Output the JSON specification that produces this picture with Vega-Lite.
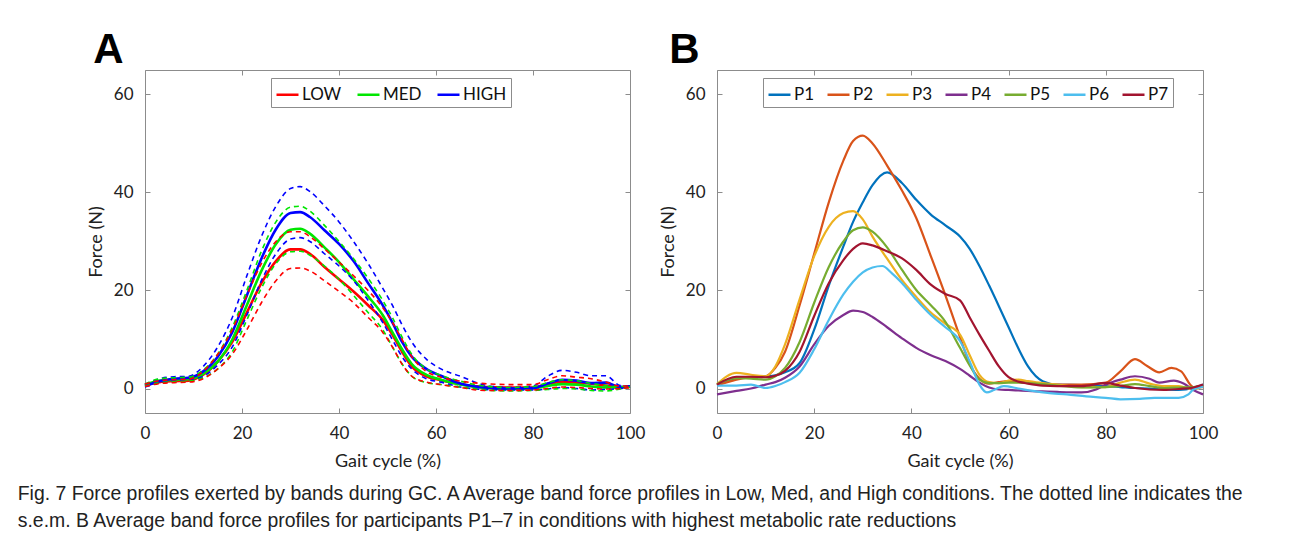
{
"$schema": "https://vega.github.io/schema/vega-lite/v6.json",
"background": "white",
"padding": {"left": 17, "top": 28, "right": 10, "bottom": 10},
"bounds": "flush",
"spacing": 87,
"resolve": {"scale": {"color": "independent"}, "legend": {"color": "independent"}},
"config": {
  "font": "Lato",
  "view": {"stroke": "#8c8c8c", "strokeWidth": 1},
  "axis": {"grid": false, "domain": false, "tickColor": "#8c8c8c", "tickSize": -5, "labelFlush": false, "labelFont": "Lato", "labelFontSize": 17, "labelColor": "#222222", "titleFont": "Lato", "titleFontSize": 18, "titleFontWeight": "normal", "titleColor": "#222222"},
  "legend": {"orient": "none", "direction": "horizontal", "symbolType": "stroke", "symbolSize": 484, "symbolStrokeWidth": 2.5, "labelFont": "Lato", "labelFontSize": 17, "labelColor": "#111111", "labelOffset": 2, "columnPadding": 7, "padding": 4, "strokeColor": "#8c8c8c", "fillColor": "white", "symbolDash": [1, 0]}
},
"title": {"text": ["Fig. 7  Force profiles exerted by bands during GC. A Average band force profiles in Low, Med, and High conditions. The dotted line indicates the", "s.e.m. B Average band force profiles for participants P1–7 in conditions with highest metabolic rate reductions"], "orient": "bottom", "anchor": "start", "font": "Liberation Sans", "fontSize": 19.4, "fontWeight": "normal", "lineHeight": 27, "offset": 14, "dx": -69, "color": "#222222"},
"datasets": {
"a": [
{"c":"LOW","t":"mean","x":0,"y":0.7},{"c":"LOW","t":"mean","x":3,"y":1.3},{"c":"LOW","t":"mean","x":6,"y":1.5},{"c":"LOW","t":"mean","x":9,"y":1.6},{"c":"LOW","t":"mean","x":12,"y":2.8},{"c":"LOW","t":"mean","x":15,"y":5.5},{"c":"LOW","t":"mean","x":18,"y":9.5},{"c":"LOW","t":"mean","x":21,"y":15.5},{"c":"LOW","t":"mean","x":24,"y":21.5},{"c":"LOW","t":"mean","x":27,"y":26},{"c":"LOW","t":"mean","x":30,"y":28.4},{"c":"LOW","t":"mean","x":32,"y":28.4},{"c":"LOW","t":"mean","x":34,"y":27.5},{"c":"LOW","t":"mean","x":37,"y":24.8},{"c":"LOW","t":"mean","x":40,"y":22.3},{"c":"LOW","t":"mean","x":43,"y":19.8},{"c":"LOW","t":"mean","x":46,"y":17},{"c":"LOW","t":"mean","x":49,"y":14},{"c":"LOW","t":"mean","x":51,"y":11},{"c":"LOW","t":"mean","x":53,"y":7.5},{"c":"LOW","t":"mean","x":55,"y":4.5},{"c":"LOW","t":"mean","x":58,"y":2.5},{"c":"LOW","t":"mean","x":61,"y":1.7},{"c":"LOW","t":"mean","x":65,"y":0.9},{"c":"LOW","t":"mean","x":70,"y":0.3},{"c":"LOW","t":"mean","x":75,"y":0.2},{"c":"LOW","t":"mean","x":80,"y":0.2},{"c":"LOW","t":"mean","x":83,"y":0.9},{"c":"LOW","t":"mean","x":86,"y":1.4},{"c":"LOW","t":"mean","x":89,"y":1.2},{"c":"LOW","t":"mean","x":92,"y":1.0},{"c":"LOW","t":"mean","x":95,"y":0.6},{"c":"LOW","t":"mean","x":98,"y":0.2},{"c":"LOW","t":"mean","x":100,"y":0.3},
{"c":"MED","t":"mean","x":0,"y":0.7},{"c":"MED","t":"mean","x":3,"y":1.6},{"c":"MED","t":"mean","x":6,"y":1.8},{"c":"MED","t":"mean","x":9,"y":1.9},{"c":"MED","t":"mean","x":12,"y":3.0},{"c":"MED","t":"mean","x":15,"y":5.5},{"c":"MED","t":"mean","x":18,"y":10},{"c":"MED","t":"mean","x":21,"y":17},{"c":"MED","t":"mean","x":24,"y":24},{"c":"MED","t":"mean","x":27,"y":29.5},{"c":"MED","t":"mean","x":30,"y":32.4},{"c":"MED","t":"mean","x":32,"y":32.6},{"c":"MED","t":"mean","x":34,"y":31.6},{"c":"MED","t":"mean","x":37,"y":28.8},{"c":"MED","t":"mean","x":40,"y":25.8},{"c":"MED","t":"mean","x":43,"y":22.3},{"c":"MED","t":"mean","x":46,"y":18.8},{"c":"MED","t":"mean","x":49,"y":15},{"c":"MED","t":"mean","x":51,"y":11.5},{"c":"MED","t":"mean","x":53,"y":8},{"c":"MED","t":"mean","x":55,"y":5},{"c":"MED","t":"mean","x":58,"y":2.8},{"c":"MED","t":"mean","x":61,"y":1.8},{"c":"MED","t":"mean","x":65,"y":0.8},{"c":"MED","t":"mean","x":70,"y":0.1},{"c":"MED","t":"mean","x":75,"y":-0.1},{"c":"MED","t":"mean","x":80,"y":0},{"c":"MED","t":"mean","x":83,"y":0.5},{"c":"MED","t":"mean","x":86,"y":0.9},{"c":"MED","t":"mean","x":89,"y":0.8},{"c":"MED","t":"mean","x":92,"y":0.4},{"c":"MED","t":"mean","x":95,"y":0.2},{"c":"MED","t":"mean","x":98,"y":0.2},{"c":"MED","t":"mean","x":100,"y":0.4},
{"c":"HIGH","t":"mean","x":0,"y":0.5},{"c":"HIGH","t":"mean","x":3,"y":1.5},{"c":"HIGH","t":"mean","x":6,"y":2.0},{"c":"HIGH","t":"mean","x":9,"y":2.2},{"c":"HIGH","t":"mean","x":12,"y":3.5},{"c":"HIGH","t":"mean","x":15,"y":6.5},{"c":"HIGH","t":"mean","x":18,"y":11.5},{"c":"HIGH","t":"mean","x":21,"y":19},{"c":"HIGH","t":"mean","x":24,"y":26.5},{"c":"HIGH","t":"mean","x":27,"y":32.5},{"c":"HIGH","t":"mean","x":30,"y":35.8},{"c":"HIGH","t":"mean","x":32,"y":36},{"c":"HIGH","t":"mean","x":34,"y":35},{"c":"HIGH","t":"mean","x":37,"y":32.3},{"c":"HIGH","t":"mean","x":40,"y":29.5},{"c":"HIGH","t":"mean","x":43,"y":26},{"c":"HIGH","t":"mean","x":46,"y":21.5},{"c":"HIGH","t":"mean","x":49,"y":17},{"c":"HIGH","t":"mean","x":51,"y":13.5},{"c":"HIGH","t":"mean","x":53,"y":9.5},{"c":"HIGH","t":"mean","x":55,"y":6.5},{"c":"HIGH","t":"mean","x":58,"y":4},{"c":"HIGH","t":"mean","x":61,"y":2.6},{"c":"HIGH","t":"mean","x":65,"y":1.0},{"c":"HIGH","t":"mean","x":70,"y":0.2},{"c":"HIGH","t":"mean","x":75,"y":0},{"c":"HIGH","t":"mean","x":80,"y":0.1},{"c":"HIGH","t":"mean","x":83,"y":1.0},{"c":"HIGH","t":"mean","x":86,"y":1.8},{"c":"HIGH","t":"mean","x":89,"y":1.6},{"c":"HIGH","t":"mean","x":92,"y":1.1},{"c":"HIGH","t":"mean","x":95,"y":1.2},{"c":"HIGH","t":"mean","x":98,"y":0.3},{"c":"HIGH","t":"mean","x":100,"y":0.4},
{"c":"HIGH","t":"upper","x":0,"y":0.8},{"c":"HIGH","t":"upper","x":3,"y":2.0},{"c":"HIGH","t":"upper","x":6,"y":2.4},{"c":"HIGH","t":"upper","x":9,"y":2.5},{"c":"HIGH","t":"upper","x":12,"y":4.5},{"c":"HIGH","t":"upper","x":15,"y":8.5},{"c":"HIGH","t":"upper","x":18,"y":14.5},{"c":"HIGH","t":"upper","x":21,"y":23},{"c":"HIGH","t":"upper","x":24,"y":31},{"c":"HIGH","t":"upper","x":27,"y":37.2},{"c":"HIGH","t":"upper","x":30,"y":40.8},{"c":"HIGH","t":"upper","x":32,"y":41.2},{"c":"HIGH","t":"upper","x":34,"y":40.2},{"c":"HIGH","t":"upper","x":37,"y":37.3},{"c":"HIGH","t":"upper","x":40,"y":34},{"c":"HIGH","t":"upper","x":43,"y":30},{"c":"HIGH","t":"upper","x":46,"y":25.5},{"c":"HIGH","t":"upper","x":49,"y":20.5},{"c":"HIGH","t":"upper","x":51,"y":17},{"c":"HIGH","t":"upper","x":53,"y":13},{"c":"HIGH","t":"upper","x":55,"y":9.5},{"c":"HIGH","t":"upper","x":58,"y":6},{"c":"HIGH","t":"upper","x":61,"y":4},{"c":"HIGH","t":"upper","x":65,"y":2.5},{"c":"HIGH","t":"upper","x":70,"y":0.7},{"c":"HIGH","t":"upper","x":75,"y":0.2},{"c":"HIGH","t":"upper","x":80,"y":0.5},{"c":"HIGH","t":"upper","x":83,"y":2.5},{"c":"HIGH","t":"upper","x":86,"y":3.7},{"c":"HIGH","t":"upper","x":89,"y":3.3},{"c":"HIGH","t":"upper","x":92,"y":2.6},{"c":"HIGH","t":"upper","x":95,"y":2.6},{"c":"HIGH","t":"upper","x":98,"y":0.6},{"c":"HIGH","t":"upper","x":100,"y":0.5},
{"c":"HIGH","t":"lower","x":0,"y":0.3},{"c":"HIGH","t":"lower","x":3,"y":1.2},{"c":"HIGH","t":"lower","x":6,"y":1.6},{"c":"HIGH","t":"lower","x":9,"y":1.8},{"c":"HIGH","t":"lower","x":12,"y":2.5},{"c":"HIGH","t":"lower","x":15,"y":4.8},{"c":"HIGH","t":"lower","x":18,"y":8.5},{"c":"HIGH","t":"lower","x":21,"y":15},{"c":"HIGH","t":"lower","x":24,"y":22},{"c":"HIGH","t":"lower","x":27,"y":27.5},{"c":"HIGH","t":"lower","x":30,"y":30.5},{"c":"HIGH","t":"lower","x":32,"y":30.8},{"c":"HIGH","t":"lower","x":34,"y":30},{"c":"HIGH","t":"lower","x":37,"y":27.5},{"c":"HIGH","t":"lower","x":40,"y":25},{"c":"HIGH","t":"lower","x":43,"y":22},{"c":"HIGH","t":"lower","x":46,"y":18},{"c":"HIGH","t":"lower","x":49,"y":13.5},{"c":"HIGH","t":"lower","x":51,"y":10},{"c":"HIGH","t":"lower","x":53,"y":6.5},{"c":"HIGH","t":"lower","x":55,"y":4},{"c":"HIGH","t":"lower","x":58,"y":2},{"c":"HIGH","t":"lower","x":61,"y":1.3},{"c":"HIGH","t":"lower","x":65,"y":0.3},{"c":"HIGH","t":"lower","x":70,"y":-0.2},{"c":"HIGH","t":"lower","x":75,"y":-0.3},{"c":"HIGH","t":"lower","x":80,"y":-0.3},{"c":"HIGH","t":"lower","x":83,"y":-0.1},{"c":"HIGH","t":"lower","x":86,"y":0.2},{"c":"HIGH","t":"lower","x":89,"y":0},{"c":"HIGH","t":"lower","x":92,"y":-0.3},{"c":"HIGH","t":"lower","x":95,"y":-0.2},{"c":"HIGH","t":"lower","x":98,"y":0},{"c":"HIGH","t":"lower","x":100,"y":0.3},
{"c":"MED","t":"upper","x":0,"y":0.9},{"c":"MED","t":"upper","x":3,"y":2.0},{"c":"MED","t":"upper","x":6,"y":2.2},{"c":"MED","t":"upper","x":9,"y":2.3},{"c":"MED","t":"upper","x":12,"y":3.8},{"c":"MED","t":"upper","x":15,"y":7},{"c":"MED","t":"upper","x":18,"y":12.5},{"c":"MED","t":"upper","x":21,"y":20},{"c":"MED","t":"upper","x":24,"y":28},{"c":"MED","t":"upper","x":27,"y":34},{"c":"MED","t":"upper","x":30,"y":37},{"c":"MED","t":"upper","x":32,"y":37.2},{"c":"MED","t":"upper","x":34,"y":36.2},{"c":"MED","t":"upper","x":37,"y":33.3},{"c":"MED","t":"upper","x":40,"y":30},{"c":"MED","t":"upper","x":43,"y":26.5},{"c":"MED","t":"upper","x":46,"y":22.5},{"c":"MED","t":"upper","x":49,"y":18},{"c":"MED","t":"upper","x":51,"y":14.5},{"c":"MED","t":"upper","x":53,"y":10.5},{"c":"MED","t":"upper","x":55,"y":7},{"c":"MED","t":"upper","x":58,"y":4},{"c":"MED","t":"upper","x":61,"y":2.7},{"c":"MED","t":"upper","x":65,"y":1.5},{"c":"MED","t":"upper","x":70,"y":0.5},{"c":"MED","t":"upper","x":75,"y":0.2},{"c":"MED","t":"upper","x":80,"y":0.4},{"c":"MED","t":"upper","x":83,"y":1.2},{"c":"MED","t":"upper","x":86,"y":1.8},{"c":"MED","t":"upper","x":89,"y":1.6},{"c":"MED","t":"upper","x":92,"y":1.0},{"c":"MED","t":"upper","x":95,"y":0.6},{"c":"MED","t":"upper","x":98,"y":0.4},{"c":"MED","t":"upper","x":100,"y":0.5},
{"c":"MED","t":"lower","x":0,"y":0.5},{"c":"MED","t":"lower","x":3,"y":1.2},{"c":"MED","t":"lower","x":6,"y":1.4},{"c":"MED","t":"lower","x":9,"y":1.5},{"c":"MED","t":"lower","x":12,"y":2.2},{"c":"MED","t":"lower","x":15,"y":4},{"c":"MED","t":"lower","x":18,"y":7.5},{"c":"MED","t":"lower","x":21,"y":14},{"c":"MED","t":"lower","x":24,"y":20.5},{"c":"MED","t":"lower","x":27,"y":25.5},{"c":"MED","t":"lower","x":30,"y":27.9},{"c":"MED","t":"lower","x":32,"y":28},{"c":"MED","t":"lower","x":34,"y":27.2},{"c":"MED","t":"lower","x":37,"y":25},{"c":"MED","t":"lower","x":40,"y":22.3},{"c":"MED","t":"lower","x":43,"y":19},{"c":"MED","t":"lower","x":46,"y":15.5},{"c":"MED","t":"lower","x":49,"y":12},{"c":"MED","t":"lower","x":51,"y":8.5},{"c":"MED","t":"lower","x":53,"y":5},{"c":"MED","t":"lower","x":55,"y":2.5},{"c":"MED","t":"lower","x":58,"y":1.2},{"c":"MED","t":"lower","x":61,"y":0.8},{"c":"MED","t":"lower","x":65,"y":0.3},{"c":"MED","t":"lower","x":70,"y":-0.3},{"c":"MED","t":"lower","x":75,"y":-0.5},{"c":"MED","t":"lower","x":80,"y":-0.4},{"c":"MED","t":"lower","x":83,"y":-0.2},{"c":"MED","t":"lower","x":86,"y":0},{"c":"MED","t":"lower","x":89,"y":-0.1},{"c":"MED","t":"lower","x":92,"y":-0.4},{"c":"MED","t":"lower","x":95,"y":-0.5},{"c":"MED","t":"lower","x":98,"y":-0.1},{"c":"MED","t":"lower","x":100,"y":0.3},
{"c":"LOW","t":"upper","x":0,"y":0.9},{"c":"LOW","t":"upper","x":3,"y":1.6},{"c":"LOW","t":"upper","x":6,"y":1.8},{"c":"LOW","t":"upper","x":9,"y":1.9},{"c":"LOW","t":"upper","x":12,"y":3.5},{"c":"LOW","t":"upper","x":15,"y":7},{"c":"LOW","t":"upper","x":18,"y":12},{"c":"LOW","t":"upper","x":21,"y":19},{"c":"LOW","t":"upper","x":24,"y":25.5},{"c":"LOW","t":"upper","x":27,"y":30},{"c":"LOW","t":"upper","x":30,"y":32},{"c":"LOW","t":"upper","x":32,"y":32},{"c":"LOW","t":"upper","x":34,"y":31},{"c":"LOW","t":"upper","x":37,"y":28.5},{"c":"LOW","t":"upper","x":40,"y":25.8},{"c":"LOW","t":"upper","x":43,"y":23},{"c":"LOW","t":"upper","x":46,"y":20},{"c":"LOW","t":"upper","x":49,"y":16.5},{"c":"LOW","t":"upper","x":51,"y":13.5},{"c":"LOW","t":"upper","x":53,"y":10},{"c":"LOW","t":"upper","x":55,"y":6.5},{"c":"LOW","t":"upper","x":58,"y":3.5},{"c":"LOW","t":"upper","x":61,"y":2.3},{"c":"LOW","t":"upper","x":65,"y":1.5},{"c":"LOW","t":"upper","x":70,"y":1.0},{"c":"LOW","t":"upper","x":75,"y":0.8},{"c":"LOW","t":"upper","x":80,"y":0.8},{"c":"LOW","t":"upper","x":83,"y":1.8},{"c":"LOW","t":"upper","x":86,"y":2.6},{"c":"LOW","t":"upper","x":89,"y":2.3},{"c":"LOW","t":"upper","x":92,"y":2.0},{"c":"LOW","t":"upper","x":95,"y":1.3},{"c":"LOW","t":"upper","x":98,"y":0.5},{"c":"LOW","t":"upper","x":100,"y":0.5},
{"c":"LOW","t":"lower","x":0,"y":0.4},{"c":"LOW","t":"lower","x":3,"y":1.0},{"c":"LOW","t":"lower","x":6,"y":1.2},{"c":"LOW","t":"lower","x":9,"y":1.3},{"c":"LOW","t":"lower","x":12,"y":2.0},{"c":"LOW","t":"lower","x":15,"y":4},{"c":"LOW","t":"lower","x":18,"y":7},{"c":"LOW","t":"lower","x":21,"y":12},{"c":"LOW","t":"lower","x":24,"y":17.5},{"c":"LOW","t":"lower","x":27,"y":22},{"c":"LOW","t":"lower","x":30,"y":24.5},{"c":"LOW","t":"lower","x":32,"y":24.6},{"c":"LOW","t":"lower","x":34,"y":24},{"c":"LOW","t":"lower","x":37,"y":22},{"c":"LOW","t":"lower","x":40,"y":19.8},{"c":"LOW","t":"lower","x":43,"y":17.5},{"c":"LOW","t":"lower","x":46,"y":14.5},{"c":"LOW","t":"lower","x":49,"y":11.5},{"c":"LOW","t":"lower","x":51,"y":8.5},{"c":"LOW","t":"lower","x":53,"y":5},{"c":"LOW","t":"lower","x":55,"y":2.5},{"c":"LOW","t":"lower","x":58,"y":1.3},{"c":"LOW","t":"lower","x":61,"y":0.8},{"c":"LOW","t":"lower","x":65,"y":0.2},{"c":"LOW","t":"lower","x":70,"y":-0.4},{"c":"LOW","t":"lower","x":75,"y":-0.4},{"c":"LOW","t":"lower","x":80,"y":-0.3},{"c":"LOW","t":"lower","x":83,"y":0},{"c":"LOW","t":"lower","x":86,"y":0.3},{"c":"LOW","t":"lower","x":89,"y":0.2},{"c":"LOW","t":"lower","x":92,"y":0},{"c":"LOW","t":"lower","x":95,"y":-0.1},{"c":"LOW","t":"lower","x":98,"y":0},{"c":"LOW","t":"lower","x":100,"y":0.2}
],
"b": [
{"p":"P1","x":0,"y":0.7},{"p":"P1","x":4,"y":2.0},{"p":"P1","x":7,"y":2.3},{"p":"P1","x":10,"y":2.5},{"p":"P1","x":12,"y":2.7},{"p":"P1","x":14,"y":3.3},{"p":"P1","x":17,"y":5.2},{"p":"P1","x":20,"y":12},{"p":"P1","x":23,"y":21},{"p":"P1","x":26,"y":29},{"p":"P1","x":28,"y":34},{"p":"P1","x":30,"y":38},{"p":"P1","x":32,"y":41.5},{"p":"P1","x":35,"y":44.1},{"p":"P1","x":38,"y":42},{"p":"P1","x":41,"y":38.5},{"p":"P1","x":44,"y":35.5},{"p":"P1","x":47,"y":33.3},{"p":"P1","x":50,"y":31},{"p":"P1","x":52,"y":28.5},{"p":"P1","x":54,"y":25},{"p":"P1","x":56,"y":21},{"p":"P1","x":58,"y":16.8},{"p":"P1","x":60,"y":12.5},{"p":"P1","x":62,"y":8.2},{"p":"P1","x":64,"y":4.5},{"p":"P1","x":67,"y":1.5},{"p":"P1","x":70,"y":0.8},{"p":"P1","x":75,"y":0.7},{"p":"P1","x":80,"y":0.5},{"p":"P1","x":83,"y":0.3},{"p":"P1","x":86,"y":0.1},{"p":"P1","x":89,"y":0},{"p":"P1","x":92,"y":-0.2},{"p":"P1","x":95,"y":-0.3},{"p":"P1","x":98,"y":0.1},{"p":"P1","x":100,"y":0.8},
{"p":"P2","x":0,"y":0.6},{"p":"P2","x":4,"y":1.8},{"p":"P2","x":7,"y":2.3},{"p":"P2","x":10,"y":2.5},{"p":"P2","x":12,"y":4.2},{"p":"P2","x":14,"y":7.5},{"p":"P2","x":17,"y":17},{"p":"P2","x":20,"y":27.5},{"p":"P2","x":23,"y":38},{"p":"P2","x":26,"y":46.5},{"p":"P2","x":28,"y":50.5},{"p":"P2","x":30,"y":51.6},{"p":"P2","x":32,"y":50},{"p":"P2","x":35,"y":45.5},{"p":"P2","x":38,"y":40.5},{"p":"P2","x":41,"y":34.8},{"p":"P2","x":44,"y":27},{"p":"P2","x":47,"y":19},{"p":"P2","x":50,"y":10.5},{"p":"P2","x":52,"y":5},{"p":"P2","x":54,"y":2},{"p":"P2","x":56,"y":1.0},{"p":"P2","x":58,"y":1.3},{"p":"P2","x":60,"y":1.5},{"p":"P2","x":62,"y":1.4},{"p":"P2","x":64,"y":1.2},{"p":"P2","x":67,"y":1.0},{"p":"P2","x":70,"y":0.8},{"p":"P2","x":75,"y":0.8},{"p":"P2","x":80,"y":1.2},{"p":"P2","x":83,"y":3.5},{"p":"P2","x":86,"y":6.0},{"p":"P2","x":88.5,"y":4.6},{"p":"P2","x":91,"y":3.3},{"p":"P2","x":93.5,"y":4.2},{"p":"P2","x":95.5,"y":3.5},{"p":"P2","x":98,"y":0.3},{"p":"P2","x":100,"y":0.3},
{"p":"P3","x":0,"y":0.9},{"p":"P3","x":4,"y":3.2},{"p":"P3","x":7,"y":2.8},{"p":"P3","x":10,"y":2.5},{"p":"P3","x":12,"y":4.5},{"p":"P3","x":14,"y":9},{"p":"P3","x":17,"y":18.2},{"p":"P3","x":20,"y":27},{"p":"P3","x":23,"y":33},{"p":"P3","x":26,"y":35.8},{"p":"P3","x":28,"y":36.2},{"p":"P3","x":30,"y":34.5},{"p":"P3","x":32,"y":31},{"p":"P3","x":35,"y":26.5},{"p":"P3","x":38,"y":22.2},{"p":"P3","x":41,"y":18.7},{"p":"P3","x":44,"y":15.5},{"p":"P3","x":47,"y":13.2},{"p":"P3","x":50,"y":11},{"p":"P3","x":52,"y":6.8},{"p":"P3","x":54,"y":2.8},{"p":"P3","x":56,"y":1.3},{"p":"P3","x":58,"y":1.1},{"p":"P3","x":60,"y":1.6},{"p":"P3","x":62,"y":1.8},{"p":"P3","x":64,"y":1.5},{"p":"P3","x":67,"y":1.1},{"p":"P3","x":70,"y":0.8},{"p":"P3","x":75,"y":0.3},{"p":"P3","x":80,"y":0.3},{"p":"P3","x":83,"y":1.2},{"p":"P3","x":86,"y":1.8},{"p":"P3","x":89,"y":1.0},{"p":"P3","x":92,"y":0.5},{"p":"P3","x":95,"y":0.5},{"p":"P3","x":98,"y":-0.2},{"p":"P3","x":100,"y":0.5},
{"p":"P4","x":0,"y":-1.2},{"p":"P4","x":4,"y":-0.5},{"p":"P4","x":7,"y":0},{"p":"P4","x":10,"y":0.8},{"p":"P4","x":12,"y":1.3},{"p":"P4","x":14,"y":2.2},{"p":"P4","x":17,"y":4.5},{"p":"P4","x":20,"y":9},{"p":"P4","x":23,"y":12.8},{"p":"P4","x":26,"y":15},{"p":"P4","x":28,"y":15.9},{"p":"P4","x":30,"y":15.6},{"p":"P4","x":32,"y":14.6},{"p":"P4","x":35,"y":12.5},{"p":"P4","x":38,"y":10.3},{"p":"P4","x":41,"y":8.3},{"p":"P4","x":44,"y":6.8},{"p":"P4","x":47,"y":5.6},{"p":"P4","x":50,"y":4},{"p":"P4","x":52,"y":2.6},{"p":"P4","x":54,"y":1.2},{"p":"P4","x":56,"y":0.2},{"p":"P4","x":58,"y":-0.2},{"p":"P4","x":60,"y":-0.3},{"p":"P4","x":62,"y":-0.4},{"p":"P4","x":64,"y":-0.5},{"p":"P4","x":67,"y":-0.6},{"p":"P4","x":70,"y":-0.7},{"p":"P4","x":75,"y":-0.8},{"p":"P4","x":78,"y":-0.2},{"p":"P4","x":80,"y":0.8},{"p":"P4","x":83,"y":1.8},{"p":"P4","x":86,"y":2.5},{"p":"P4","x":89,"y":2.0},{"p":"P4","x":91,"y":1.2},{"p":"P4","x":94,"y":1.6},{"p":"P4","x":96,"y":1.0},{"p":"P4","x":98,"y":-0.3},{"p":"P4","x":100,"y":-1.2},
{"p":"P5","x":0,"y":0.9},{"p":"P5","x":4,"y":2.1},{"p":"P5","x":7,"y":2.0},{"p":"P5","x":10,"y":1.8},{"p":"P5","x":12,"y":2.5},{"p":"P5","x":14,"y":4.2},{"p":"P5","x":17,"y":9.5},{"p":"P5","x":20,"y":17.5},{"p":"P5","x":23,"y":24.8},{"p":"P5","x":26,"y":30},{"p":"P5","x":28,"y":32.3},{"p":"P5","x":30,"y":32.9},{"p":"P5","x":32,"y":32},{"p":"P5","x":35,"y":28.8},{"p":"P5","x":38,"y":24.3},{"p":"P5","x":41,"y":20.1},{"p":"P5","x":44,"y":17},{"p":"P5","x":47,"y":13.6},{"p":"P5","x":50,"y":8.3},{"p":"P5","x":52,"y":4.7},{"p":"P5","x":54,"y":1.8},{"p":"P5","x":56,"y":1.1},{"p":"P5","x":58,"y":1.1},{"p":"P5","x":60,"y":1.2},{"p":"P5","x":62,"y":1.2},{"p":"P5","x":64,"y":1.1},{"p":"P5","x":67,"y":0.9},{"p":"P5","x":70,"y":0.6},{"p":"P5","x":75,"y":0.2},{"p":"P5","x":80,"y":0.3},{"p":"P5","x":83,"y":0.5},{"p":"P5","x":86,"y":0.9},{"p":"P5","x":89,"y":0.5},{"p":"P5","x":92,"y":0.1},{"p":"P5","x":95,"y":0.2},{"p":"P5","x":98,"y":0.3},{"p":"P5","x":100,"y":0.5},
{"p":"P6","x":0,"y":0.6},{"p":"P6","x":4,"y":0.6},{"p":"P6","x":7,"y":0.8},{"p":"P6","x":10,"y":0.1},{"p":"P6","x":12,"y":0.5},{"p":"P6","x":14,"y":1.3},{"p":"P6","x":17,"y":3.2},{"p":"P6","x":20,"y":8},{"p":"P6","x":23,"y":14},{"p":"P6","x":26,"y":19.2},{"p":"P6","x":28,"y":21.8},{"p":"P6","x":30,"y":23.7},{"p":"P6","x":32,"y":24.7},{"p":"P6","x":34,"y":25},{"p":"P6","x":36,"y":23.5},{"p":"P6","x":38,"y":21.6},{"p":"P6","x":41,"y":18.1},{"p":"P6","x":44,"y":15},{"p":"P6","x":47,"y":12.5},{"p":"P6","x":50,"y":9.7},{"p":"P6","x":52,"y":5.5},{"p":"P6","x":54,"y":0.8},{"p":"P6","x":55.5,"y":-0.8},{"p":"P6","x":57,"y":-0.3},{"p":"P6","x":59,"y":0.5},{"p":"P6","x":62,"y":0},{"p":"P6","x":65,"y":-0.5},{"p":"P6","x":68,"y":-0.9},{"p":"P6","x":72,"y":-1.2},{"p":"P6","x":76,"y":-1.6},{"p":"P6","x":80,"y":-1.9},{"p":"P6","x":83,"y":-2.2},{"p":"P6","x":87,"y":-2.1},{"p":"P6","x":90,"y":-1.9},{"p":"P6","x":95,"y":-1.9},{"p":"P6","x":97,"y":-1.2},{"p":"P6","x":98,"y":-0.2},{"p":"P6","x":100,"y":0.4},
{"p":"P7","x":0,"y":0.8},{"p":"P7","x":4,"y":2.4},{"p":"P7","x":7,"y":2.4},{"p":"P7","x":10,"y":2.3},{"p":"P7","x":12,"y":2.6},{"p":"P7","x":14,"y":3.6},{"p":"P7","x":17,"y":7.5},{"p":"P7","x":20,"y":14.8},{"p":"P7","x":23,"y":21.5},{"p":"P7","x":26,"y":26.2},{"p":"P7","x":28,"y":28.5},{"p":"P7","x":30,"y":29.6},{"p":"P7","x":32,"y":29.2},{"p":"P7","x":35,"y":28},{"p":"P7","x":38,"y":26.6},{"p":"P7","x":41,"y":24.2},{"p":"P7","x":44,"y":21.2},{"p":"P7","x":47,"y":19.3},{"p":"P7","x":50,"y":18},{"p":"P7","x":52,"y":14.5},{"p":"P7","x":54,"y":11},{"p":"P7","x":56,"y":7.7},{"p":"P7","x":58,"y":4.5},{"p":"P7","x":60,"y":2.3},{"p":"P7","x":62,"y":1.4},{"p":"P7","x":64,"y":1.0},{"p":"P7","x":67,"y":0.6},{"p":"P7","x":70,"y":0.5},{"p":"P7","x":75,"y":0.5},{"p":"P7","x":80,"y":1.1},{"p":"P7","x":83,"y":0.6},{"p":"P7","x":86,"y":0.1},{"p":"P7","x":89,"y":-0.2},{"p":"P7","x":92,"y":-0.3},{"p":"P7","x":95,"y":-0.1},{"p":"P7","x":98,"y":0.2},{"p":"P7","x":100,"y":0.8}
]
},
"hconcat": [
{
  "width": 485, "height": 343,
  "title": {"text": "A", "anchor": "start", "font": "Liberation Sans", "fontSize": 42, "fontWeight": "bold", "dx": 6, "offset": -2, "color": "black"},
  "data": {"name": "a"},
  "layer": [
    {
      "transform": [{"filter": {"field": "t", "equal": "mean"}}],
      "mark": {"type": "line", "interpolate": "monotone", "strokeWidth": 2.6},
      "encoding": {
        "x": {"field": "x", "type": "quantitative", "scale": {"domain": [0, 100], "nice": false}, "axis": {"values": [0, 20, 40, 60, 80, 100], "title": "Gait cycle (%)", "labelPadding": 17, "titlePadding": 11}},
        "y": {"field": "y", "type": "quantitative", "scale": {"domain": [-5, 65], "nice": false, "zero": false}, "axis": {"values": [0, 20, 40, 60], "title": "Force (N)", "labelPadding": 17, "titlePadding": 8}},
        "color": {"field": "c", "type": "nominal", "scale": {"domain": ["LOW", "MED", "HIGH"], "range": ["#ff0000", "#00e600", "#0000ff"]}, "legend": {"title": null, "legendX": 126, "legendY": 8, "columnPadding": 10}}
      }
    },
    {
      "transform": [{"filter": {"not": {"field": "t", "equal": "mean"}}}],
      "mark": {"type": "line", "interpolate": "monotone", "strokeWidth": 1.6, "strokeDash": [5, 4]},
      "encoding": {
        "x": {"field": "x", "type": "quantitative", "axis": {"orient": "top", "values": [0, 20, 40, 60, 80, 100], "labels": false, "title": null}},
        "y": {"field": "y", "type": "quantitative", "axis": {"orient": "right", "values": [0, 20, 40, 60], "labels": false, "title": null}},
        "color": {"field": "c", "type": "nominal"},
        "detail": {"field": "t", "type": "nominal"}
      }
    }
  ],
  "resolve": {"axis": {"x": "independent", "y": "independent"}}
},
{
  "width": 486, "height": 343,
  "title": {"text": "B", "anchor": "start", "font": "Liberation Sans", "fontSize": 42, "fontWeight": "bold", "dx": 10, "offset": -2, "color": "black"},
  "data": {"name": "b"},
  "layer": [
    {
      "mark": {"type": "line", "interpolate": "monotone", "strokeWidth": 2.2},
      "encoding": {
        "x": {"field": "x", "type": "quantitative", "scale": {"domain": [0, 100], "nice": false}, "axis": {"values": [0, 20, 40, 60, 80, 100], "title": "Gait cycle (%)", "labelPadding": 17, "titlePadding": 11}},
        "y": {"field": "y", "type": "quantitative", "scale": {"domain": [-5, 65], "nice": false, "zero": false}, "axis": {"values": [0, 20, 40, 60], "title": "Force (N)", "labelPadding": 17, "titlePadding": 8}},
        "color": {"field": "p", "type": "nominal", "scale": {"domain": ["P1", "P2", "P3", "P4", "P5", "P6", "P7"], "range": ["#0072bd", "#d95319", "#edb120", "#7e2f8e", "#77ac30", "#4dbeee", "#a2142f"]}, "legend": {"title": null, "legendX": 46, "legendY": 8, "columnPadding": 7}}
      }
    },
    {
      "mark": {"type": "point", "opacity": 0},
      "encoding": {
        "x": {"field": "x", "type": "quantitative", "axis": {"orient": "top", "values": [0, 20, 40, 60, 80, 100], "labels": false, "title": null}},
        "y": {"field": "y", "type": "quantitative", "axis": {"orient": "right", "values": [0, 20, 40, 60], "labels": false, "title": null}}
      }
    }
  ],
  "resolve": {"axis": {"x": "independent", "y": "independent"}}
}
]
}
